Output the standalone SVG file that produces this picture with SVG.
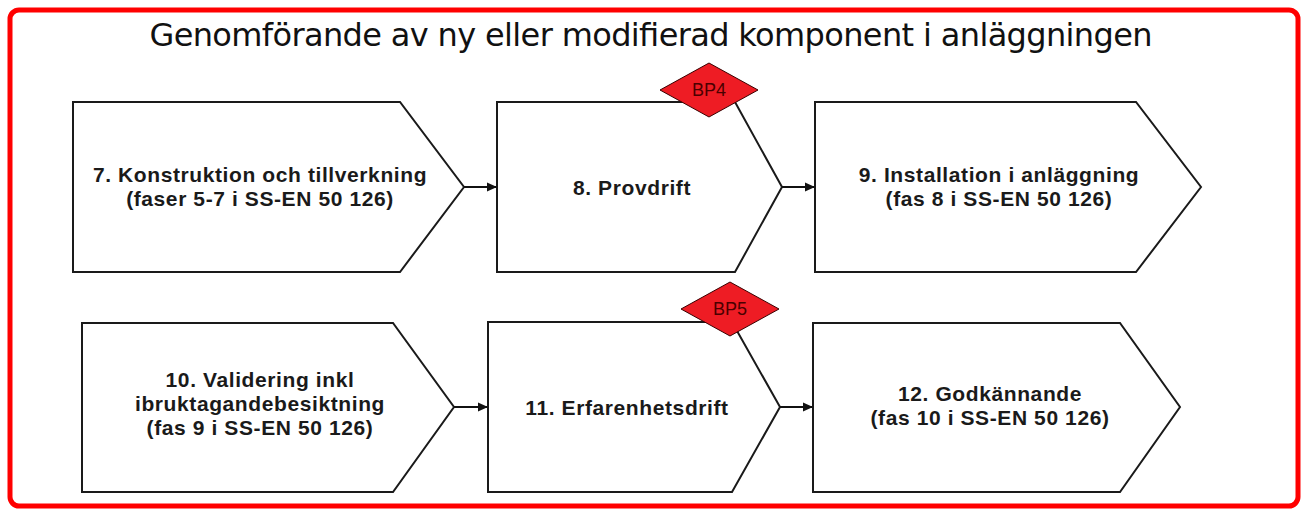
<svg xmlns="http://www.w3.org/2000/svg" width="1301" height="509" viewBox="0 0 1301 509">
<style>
.frame{fill:#ffffff;stroke:#ff0000;stroke-width:5}
.title{font-family:"DejaVu Sans","Liberation Sans",sans-serif;font-size:32px;fill:#111;text-anchor:middle}
.node{fill:#ffffff;stroke:#1a1a1a;stroke-width:2;stroke-linejoin:miter}
.lbl{font-family:"Liberation Sans",Arial,sans-serif;font-size:21px;font-weight:bold;fill:#1a1a1a;text-anchor:middle;letter-spacing:0.6px}
.dia{fill:#ee1c24;stroke:#3a0000;stroke-width:1}
.bp{font-family:"Liberation Sans",Arial,sans-serif;font-size:18px;fill:#4a0000;text-anchor:middle}
.conn{stroke:#111;stroke-width:2;fill:none}
</style>
<defs>
<marker id="arr" markerWidth="10" markerHeight="10" refX="9" refY="5" orient="auto" markerUnits="userSpaceOnUse">
<path d="M0,0.5 L10,5 L0,9.5 Z" fill="#111"/>
</marker>
</defs>
<rect class="frame" x="10" y="10" width="1288" height="496" rx="9" ry="9"/>
<text class="title" x="651" y="46" textLength="1003" lengthAdjust="spacing">Genomförande av ny eller modifierad komponent i anläggningen</text>

<g id="node7">
<path class="node" d="M73,102 L400,102 L464,187 L400,272 L73,272 Z"/>
<text class="lbl" x="260" y="182">7. Konstruktion och tillverkning</text>
<text class="lbl" x="260" y="206">(faser 5-7 i SS-EN 50 126)</text>
</g>
<g id="node8">
<path class="node" d="M497,102 L735,102 L782,187 L735,272 L497,272 Z"/>
<text class="lbl" x="632" y="195">8. Provdrift</text>
</g>
<g id="bp4">
<path class="dia" d="M709,63 L758,90 L709,117 L660,90 Z"/>
<text class="bp" x="709" y="96">BP4</text>
</g>
<g id="node9">
<path class="node" d="M815,102 L1136,102 L1201,187 L1136,272 L815,272 Z"/>
<text class="lbl" x="999" y="182">9. Installation i anläggning</text>
<text class="lbl" x="999" y="206">(fas 8 i SS-EN 50 126)</text>
</g>
<g id="node10">
<path class="node" d="M82,323 L393,323 L454,407 L393,492 L82,492 Z"/>
<text class="lbl" x="260" y="387">10. Validering inkl</text>
<text class="lbl" x="260" y="411">ibruktagandebesiktning</text>
<text class="lbl" x="260" y="435">(fas 9 i SS-EN 50 126)</text>
</g>
<g id="node11">
<path class="node" d="M488,322 L732,322 L780,407 L732,492 L488,492 Z"/>
<text class="lbl" x="627" y="415">11. Erfarenhetsdrift</text>
</g>
<g id="bp5">
<path class="dia" d="M730,282 L779,309 L730,336 L681,309 Z"/>
<text class="bp" x="730" y="315">BP5</text>
</g>
<g id="node12">
<path class="node" d="M813,323 L1120,323 L1180,407 L1120,492 L813,492 Z"/>
<text class="lbl" x="990" y="401">12. Godkännande</text>
<text class="lbl" x="990" y="425">(fas 10 i SS-EN 50 126)</text>
</g>

<g id="connectors">
<line class="conn" x1="464" y1="187" x2="496" y2="187" marker-end="url(#arr)"/>
<line class="conn" x1="782" y1="187" x2="814" y2="187" marker-end="url(#arr)"/>
<line class="conn" x1="454" y1="407" x2="487" y2="407" marker-end="url(#arr)"/>
<line class="conn" x1="780" y1="407" x2="812" y2="407" marker-end="url(#arr)"/>
</g>
</svg>
